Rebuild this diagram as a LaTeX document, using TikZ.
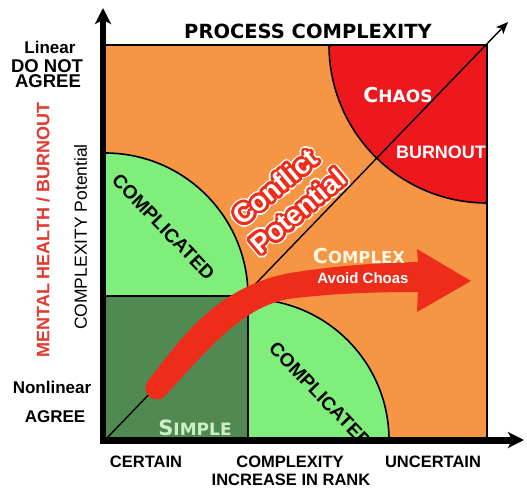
\documentclass[tikz,border=0pt]{standalone}
\usepackage{fontspec}
\setmainfont{Liberation Sans}
\newfontfamily\dvs{DejaVu Sans}
\usetikzlibrary{arrows.meta,calc}
\definecolor{orng}{RGB}{246,150,68}
\definecolor{chaosred}{RGB}{236,24,30}
\definecolor{lgreen}{RGB}{128,238,122}
\definecolor{dgreen}{RGB}{80,138,82}
\definecolor{arrowred}{RGB}{238,44,26}
\definecolor{mhred}{RGB}{226,58,48}
\definecolor{simplec}{RGB}{205,240,196}
\definecolor{cream}{RGB}{255,246,228}
\newcommand\myfs[1]{\fontsize{#1}{#1}\selectfont}
\tikzset{
  lbl/.style={inner sep=0pt, font=\bfseries\myfs{17}},
  axlbl/.style={inner sep=0pt, font=\bfseries\myfs{16.5}},
  cmpl/.style={inner sep=0pt, font=\bfseries\myfs{19}},
  cpt/.style={inner sep=0pt, font=\bfseries\myfs{27}},
  region/.style={draw=black, line width=1.6pt},
}
\newcommand\outl[4]{%
  \foreach \a in {0,22.5,...,337.5}{\node[cpt, text=white, rotate=#3] at ($#2+(\a:4.4)$) {#4};}%
  \foreach \a in {0,22.5,...,337.5}{\node[cpt, text=arrowred, rotate=#3] at ($#2+(\a:2.8)$) {#4};}%
  \node[cpt, text=white, rotate=#3] (#1) at #2 {#4};%
}
\begin{document}
\begin{tikzpicture}[x=1pt,y=-1pt]
\useasboundingbox (0,0) rectangle (527,489);
% background box
\fill[orng] (105,45) rectangle (487,440);
\begin{scope}
  \clip (105,45) rectangle (487,440);
  \fill[chaosred] (487,45) circle (158);
  \draw[region] (487,45) circle (158);
\end{scope}
\begin{scope}
  \clip (105,45) rectangle (487,296);
  \fill[lgreen] (105,296) circle (143);
  \draw[region] (105,296) circle (143);
\end{scope}
\begin{scope}
  \clip (248,45) rectangle (487,440);
  \fill[lgreen] (248,440) circle (141);
  \draw[region] (248,440) circle (141);
\end{scope}
\fill[dgreen] (105,296) rectangle (248,440);
\draw[region] (105,296) -- (248,296) -- (248,440);
% diagonal
\coordinate (orig) at (105,440);
\coordinate (diagend) at (508,22);
\draw[line width=1.4pt, -{Stealth[length=12pt,width=10pt,inset=3pt]}] (orig) -- (diagend);
% frame
\draw[line width=2pt] (103,45) -- (487,45) -- (487,440);
% red arrow
\fill[arrowred] (148,381) .. controls (180,340) and (215,287) .. (290,273)
  .. controls (340,265) and (380,263) .. (418,262) -- (417,249) -- (471,281)
  -- (417,312) -- (418,292) .. controls (380,292) and (340,293) .. (296,298)
  .. controls (250,302) and (215,340) .. (166,395) -- cycle;
\fill[arrowred] (157,388) circle (11.5);
% region texts
\node[cmpl, rotate=-46] (cmp1) at (163.5,227) {COMPLICATED};
\begin{scope}
  \clip (105,45) rectangle (487,437);
  \node[cmpl, rotate=-46] (cmp2) at (320.5,395) {COMPLICATED};
\end{scope}
\node[inner sep=0pt, text=white, font=\dvs\bfseries] (chaos) at (398,95) {\myfs{20.5}C\myfs{17}HAOS};
\node[inner sep=0pt, text=white, font=\bfseries\myfs{18}] (burn) at (441,152) {BURNOUT};
\node[inner sep=0pt, text=cream, font=\dvs\bfseries] (cplx) at (359,256) {\myfs{20.5}C\myfs{16.5}OMPLEX};
\node[inner sep=0pt, text=white, font=\bfseries\myfs{15}] (avoid) at (363,278) {Avoid Choas};
\node[inner sep=0pt, text=simplec, font=\dvs\bfseries] (simple) at (195,428) {\myfs{21}S\myfs{17}IMPLE};
\outl{conf}{(275,187)}{40}{Conflict}
\outl{pot}{(298,211)}{40}{Potential}
% axes
\draw[line width=6pt, -{Stealth[length=16pt,width=16pt,inset=4pt]}] (103,443) -- (103,8);
\draw[line width=7pt, -{Stealth[length=16pt,width=16pt,inset=4pt]}] (100,440) -- (524,440);
% title and axis labels
\node[inner sep=0pt, font=\dvs\bfseries\myfs{19.5}] (title) at (308,31) {PROCESS COMPLEXITY};
\node[lbl] (linear) at (50,47) {Linear};
\node[lbl, font=\bfseries\myfs{18.5}] (dnot) at (47,66) {DO NOT};
\node[lbl, font=\bfseries\myfs{18.5}] (agree1) at (48,81) {AGREE};
\node[inner sep=0pt, rotate=90, text=mhred, font=\bfseries\myfs{18}] (mh) at (43,230) {MENTAL HEALTH / BURNOUT};
\node[inner sep=0pt, rotate=90, font=\myfs{17.5}] (cpot) at (80.5,237) {COMPLEXITY Potential};
\node[lbl] (nonlin) at (52,387) {Nonlinear};
\node[lbl] (agree2) at (55,417) {AGREE};
\node[axlbl] (certain) at (146,462) {CERTAIN};
\node[axlbl] (cmplx) at (290,462) {COMPLEXITY};
\node[axlbl] (incr) at (291,480) {INCREASE IN RANK};
\node[axlbl] (uncert) at (433,462) {UNCERTAIN};
\end{tikzpicture}
\end{document}
